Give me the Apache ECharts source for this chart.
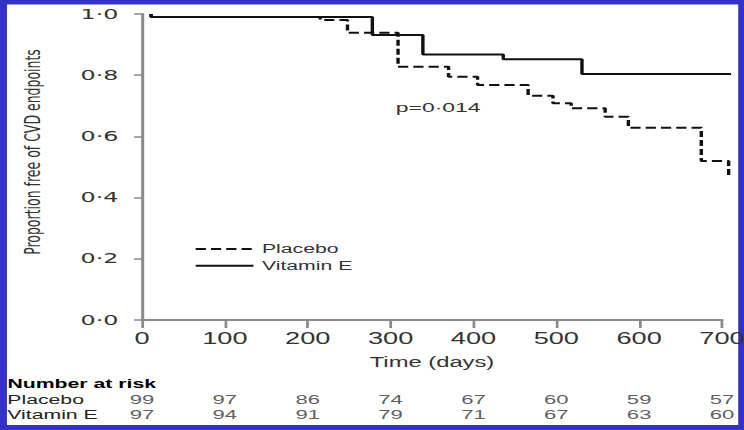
<!DOCTYPE html>
<html>
<head>
<meta charset="utf-8">
<script src="https://cdn.jsdelivr.net/npm/echarts@6/dist/echarts.min.js"></script>
<style>
  html, body { margin: 0; padding: 0; width: 744px; height: 430px; overflow: hidden; background: #3232c8; }
  /* The slide is drawn narrow and widened horizontally, like the projected figure. */
  #chart { width: 438px; height: 430px; transform: scaleX(1.69863); transform-origin: 0 0; }
</style>
</head>
<body>
<div id="chart"></div>
<script>
// Kaplan-Meier estimates: event times (days) and proportion free of CVD endpoints
const placeboDays = [11, 11, 215, 248, 309, 370, 405, 466, 496, 518, 559, 587, 675, 708];
const placeboFree = [1.0, 0.99, 0.98, 0.939, 0.828, 0.795, 0.768, 0.733, 0.708, 0.692, 0.664, 0.628, 0.52, 0.468];
const vitaminEDays = [11, 11, 278, 339, 436, 531, 711];
const vitaminEFree = [1.0, 0.99, 0.931, 0.868, 0.852, 0.804, 0.804];

// Number at risk table
const riskDays = [0, 100, 200, 300, 400, 500, 600, 700];
const placeboAtRisk = [99, 97, 86, 74, 67, 60, 59, 57];
const vitaminEAtRisk = [97, 94, 91, 79, 71, 67, 63, 60];
const groups = ['Placebo', 'Vitamin E'];

const pValueText = 'p=0·014';
const yTitle = 'Proportion free of CVD endpoints';
const xTitle = 'Time (days)';
const riskTitle = 'Number at risk';

const textColor = '#333';
const axisColor = '#8a8a8a';
const lineColor = '#111';
const font = '"Liberation Sans", Arial, sans-serif';

const zip = (a, b) => a.map((v, i) => [v, b[i]]);
const riskRows = (name, counts) => counts.map((c, i) => [riskDays[i], name, c]);

// Plot geometry: the labelled time axis runs 0-700 days, the curves run on to the last follow-up
const plotLeft = 83.6, plotRight = 12.95;
const axisEnd = 700, followUpEnd = 711;
const plotWidth = 438 - plotLeft - plotRight;
const curvesRight = 438 - plotLeft - plotWidth * followUpEnd / axisEnd;

const chart = echarts.init(document.getElementById('chart'), null, { renderer: 'svg' });

const riskLabel = { show: true, position: 'inside', formatter: p => String(p.value[2]),
                    fontFamily: font, fontSize: 13, color: textColor };

chart.setOption({
  animation: false,
  backgroundColor: 'transparent',
  textStyle: { fontFamily: font, color: textColor },
  graphic: [
    { type: 'rect', z: -100, silent: true,
      shape: { x: 4.1, y: 4.5, width: 430.5, height: 420.5 },
      style: { fill: '#ffffff' } },
    { type: 'text', x: 19.4, y: 152, rotation: Math.PI / 2,
      style: { text: yTitle, fontFamily: '"DejaVu Sans", sans-serif', fontSize: 12.5, fill: '#333',
               align: 'center', verticalAlign: 'middle' } },
    { type: 'text', left: 233, top: 100,
      style: { text: pValueText, fontFamily: font, fontSize: 13.5, fill: textColor } },
    { type: 'text', left: 4.4, top: 377,
      style: { text: riskTitle, fontFamily: font, fontSize: 12.5, fontWeight: 'bold', fill: '#000' } }
  ],
  grid: [
    { left: plotLeft, right: plotRight, top: 14, bottom: 110, outerBoundsMode: 'none' },
    { left: plotLeft, right: plotRight, top: 392.5, height: 30, outerBoundsMode: 'none' },
    { left: plotLeft, right: curvesRight, top: 14, bottom: 110, outerBoundsMode: 'none' }
  ],
  legend: {
    data: groups,
    orient: 'vertical',
    left: 114.2,
    top: 242,
    padding: 0,
    itemWidth: 34,
    itemHeight: 14,
    itemGap: 2.7,
    itemStyle: { opacity: 0 },
    textStyle: { fontFamily: font, fontSize: 12.5, color: textColor, lineHeight: 14 }
  },
  xAxis: [
    {
      gridIndex: 0, type: 'value', min: 0, max: axisEnd, interval: 100, offset: 3,
      name: xTitle, nameLocation: 'middle', nameGap: 32,
      nameTextStyle: { fontFamily: font, fontSize: 14, color: textColor },
      axisLine: { lineStyle: { color: axisColor, width: 2 } },
      axisTick: { length: 8, lineStyle: { color: axisColor, width: 1.6 } },
      axisLabel: { fontFamily: font, fontSize: 16, color: textColor, margin: 8 },
      splitLine: { show: false }
    },
    { gridIndex: 1, type: 'value', min: 0, max: axisEnd, show: false },
    { gridIndex: 2, type: 'value', min: 0, max: followUpEnd, show: false }
  ],
  yAxis: [
    {
      gridIndex: 0, type: 'value', min: 0, max: 1, interval: 0.2, offset: 2.94,
      axisLine: { show: true, lineStyle: { color: axisColor, width: 1.8 } },
      axisTick: { show: true, length: 4.7, lineStyle: { color: axisColor, width: 1.5 } },
      axisLabel: {
        fontFamily: '"DejaVu Sans", sans-serif', fontSize: 14, color: textColor, margin: 11,
        formatter: v => v.toFixed(1).replace('.', '·')
      },
      splitLine: { show: false }
    },
    {
      gridIndex: 1, type: 'category', data: groups, inverse: true,
      axisLine: { show: false }, axisTick: { show: false },
      axisLabel: { interval: 0, fontFamily: font, fontSize: 12.5, color: '#222', align: 'left', margin: 79.3 }
    },
    { gridIndex: 2, type: 'value', min: 0, max: 1, show: false }
  ],
  series: [
    {
      name: 'Placebo', type: 'line', step: 'end', showSymbol: false, symbol: 'none', clip: false,
      xAxisIndex: 2, yAxisIndex: 2,
      data: zip(placeboDays, placeboFree),
      lineStyle: { color: lineColor, width: 2, type: [6, 3] },
      itemStyle: { color: lineColor }
    },
    {
      name: 'Vitamin E', type: 'line', step: 'end', showSymbol: false, symbol: 'none', clip: false,
      xAxisIndex: 2, yAxisIndex: 2,
      data: zip(vitaminEDays, vitaminEFree),
      lineStyle: { color: lineColor, width: 2, type: 'solid' },
      itemStyle: { color: lineColor }
    },
    {
      name: 'Placebo at risk', type: 'scatter', xAxisIndex: 1, yAxisIndex: 1,
      symbolSize: 1, itemStyle: { color: 'rgba(0,0,0,0)' },
      data: riskRows('Placebo', placeboAtRisk),
      label: riskLabel
    },
    {
      name: 'Vitamin E at risk', type: 'scatter', xAxisIndex: 1, yAxisIndex: 1,
      symbolSize: 1, itemStyle: { color: 'rgba(0,0,0,0)' },
      data: riskRows('Vitamin E', vitaminEAtRisk),
      label: riskLabel
    }
  ]
});
</script>
</body>
</html>
